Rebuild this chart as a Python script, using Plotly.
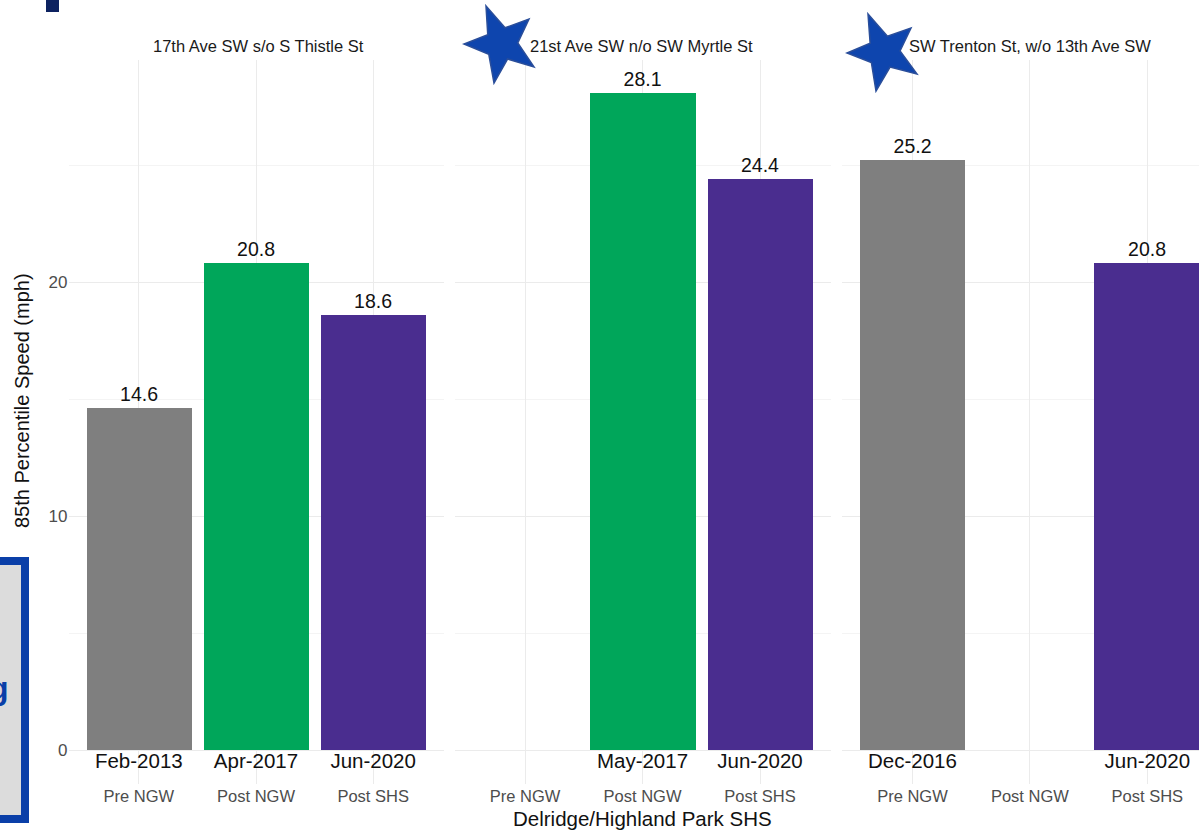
import math
import plotly.graph_objects as go

W, H = 1199, 830

panel_titles = ["17th Ave SW s/o S Thistle St", "21st Ave SW n/o SW Myrtle St", "SW Trenton St, w/o 13th Ave SW"]
periods = ["Pre NGW", "Post NGW", "Post SHS"]
speeds = [
    [14.6, 20.8, 18.6],
    [None, 28.1, 24.4],
    [25.2, None, 20.8],
]
dates = [
    ["Feb-2013", "Apr-2017", "Jun-2020"],
    [None, "May-2017", "Jun-2020"],
    ["Dec-2016", None, "Jun-2020"],
]
bar_colors = ["#7F7F7F", "#00A65A", "#4A2D8F"]

FONT = "Liberation Sans, Arial, sans-serif"


def px(x):
    return x / W


def py(y):
    return 1 - y / H


# panel pixel extents
panels_px = [(68.5, 443.5), (454.5, 830.5), (842, 1199)]
xranges = [[-0.6, 2.6], [-0.6, 2.6], [-0.6, 2.44]]
y_top_px, y_bot_px = 60, 784
yrange = [-1.45, 29.49]

fig = go.Figure()

for i in range(3):
    xa = "x" if i == 0 else f"x{i+1}"
    ya = "y" if i == 0 else f"y{i+1}"
    xs, ys, cs, ts = [], [], [], []
    for j in range(3):
        v = speeds[i][j]
        if v is not None:
            xs.append(j)
            ys.append(v)
            cs.append(bar_colors[j])
            ts.append(f"{v:.1f}")
    fig.add_trace(go.Bar(
        x=xs, y=ys, marker=dict(color=cs, line=dict(width=0)), width=0.9,
        text=ts, textposition="outside", cliponaxis=False,
        textfont=dict(size=19.5, color="#111111", family=FONT),
        xaxis=xa, yaxis=ya, showlegend=False, hoverinfo="skip",
    ))
    dx, dt = [], []
    for j in range(3):
        if dates[i][j] is not None:
            dx.append(j)
            dt.append(dates[i][j])
    fig.add_trace(go.Scatter(
        x=dx, y=[-0.56] * len(dx), mode="text", text=dt,
        textfont=dict(size=20.5, color="#111111", family=FONT),
        xaxis=xa, yaxis=ya, showlegend=False, hoverinfo="skip", cliponaxis=False,
    ))

layout = dict(
    width=W, height=H,
    margin=dict(l=0, r=0, t=0, b=0),
    paper_bgcolor="white", plot_bgcolor="white",
    font=dict(family=FONT),
    bargap=0,
)

for i in range(3):
    xk = "xaxis" if i == 0 else f"xaxis{i+1}"
    yk = "yaxis" if i == 0 else f"yaxis{i+1}"
    l, r = panels_px[i]
    layout[xk] = dict(
        domain=[px(l), px(r)], range=xranges[i],
        tickvals=[0, 1, 2], ticktext=periods,
        tickfont=dict(size=16.5, color="#4D4D4D", family=FONT),
        showgrid=True, gridcolor="#EBEBEB", gridwidth=1,
        zeroline=False, showline=False, ticks="",
        anchor="y" if i == 0 else f"y{i+1}",
        fixedrange=True,
    )
    layout[yk] = dict(
        domain=[py(y_bot_px), py(y_top_px)], range=yrange,
        tickvals=[0, 10, 20],
        showticklabels=(i == 0),
        tickfont=dict(size=17, color="#4D4D4D", family=FONT),
        showgrid=True, gridcolor="#EBEBEB", gridwidth=1,
        minor=dict(tickvals=[5, 15, 25], showgrid=True, gridcolor="#F4F4F4", gridwidth=1),
        zeroline=False, showline=False, ticks="",
        anchor="x" if i == 0 else f"x{i+1}",
        matches=None if i == 0 else "y",
        fixedrange=True,
    )

fig.update_layout(**layout)

annotations = []
strip_centers = [258.5, 641, 1030]
for i in range(3):
    annotations.append(dict(
        x=px(strip_centers[i]), y=py(46), xref="paper", yref="paper",
        text=panel_titles[i], showarrow=False, xanchor="center", yanchor="middle",
        font=dict(size=16.5, color="#1A1A1A", family=FONT),
    ))
annotations.append(dict(
    x=px(22), y=py(401), xref="paper", yref="paper", text="85th Percentile Speed (mph)",
    textangle=-90, showarrow=False, xanchor="center", yanchor="middle",
    font=dict(size=20, color="#111111", family=FONT),
))
annotations.append(dict(
    x=px(642), y=py(818), xref="paper", yref="paper", text="Delridge/Highland Park SHS",
    showarrow=False, xanchor="center", yanchor="middle",
    font=dict(size=20.5, color="#111111", family=FONT),
))
annotations.append(dict(
    x=px(11), y=py(688), xref="paper", yref="paper", text="<b>g</b>",
    showarrow=False, xanchor="right", yanchor="middle",
    font=dict(size=32, color="#0A3FA8", family=FONT),
))

shapes = []
# dark rectangle top-left
shapes.append(dict(type="rect", xref="paper", yref="paper",
                   x0=px(46), x1=px(59), y0=py(0), y1=py(12),
                   fillcolor="#0D2260", line=dict(width=0), layer="above"))
# blue bordered box on left
shapes.append(dict(type="rect", xref="paper", yref="paper",
                   x0=px(-30), x1=px(25), y0=py(561), y1=py(819),
                   fillcolor="#DCDCDC", line=dict(width=8, color="#0A3FA8"), layer="above"))


def star_path(outer_pts):
    cx = sum(p[0] for p in outer_pts) / 5
    cy = sum(p[1] for p in outer_pts) / 5
    ro = sum(math.hypot(p[0] - cx, p[1] - cy) for p in outer_pts) / 5
    ri = ro * 0.42
    angs = [math.atan2(p[1] - cy, p[0] - cx) for p in outer_pts]
    order = sorted(range(5), key=lambda k: angs[k])
    pts = []
    for n in range(5):
        k = order[n]
        k2 = order[(n + 1) % 5]
        a1 = angs[k]
        a2 = angs[k2]
        if a2 < a1:
            a2 += 2 * math.pi
        am = (a1 + a2) / 2
        pts.append(outer_pts[k])
        pts.append((cx + ri * math.cos(am), cy + ri * math.sin(am)))
    d = "M " + " L ".join(f"{px(x):.5f},{py(y):.5f}" for x, y in pts) + " Z"
    return d


star1 = [(486, 6), (464, 44), (494, 83), (534, 67), (529, 19)]
star2 = [(868, 14), (847, 53), (876, 91), (917, 74), (911, 28)]
for s in (star1, star2):
    shapes.append(dict(type="path", xref="paper", yref="paper", path=star_path(s),
                       fillcolor="#0E45AE", line=dict(width=1.5, color="#2A4E9A"), layer="above"))

fig.update_layout(annotations=annotations, shapes=shapes)

fig.write_html("out.html")
